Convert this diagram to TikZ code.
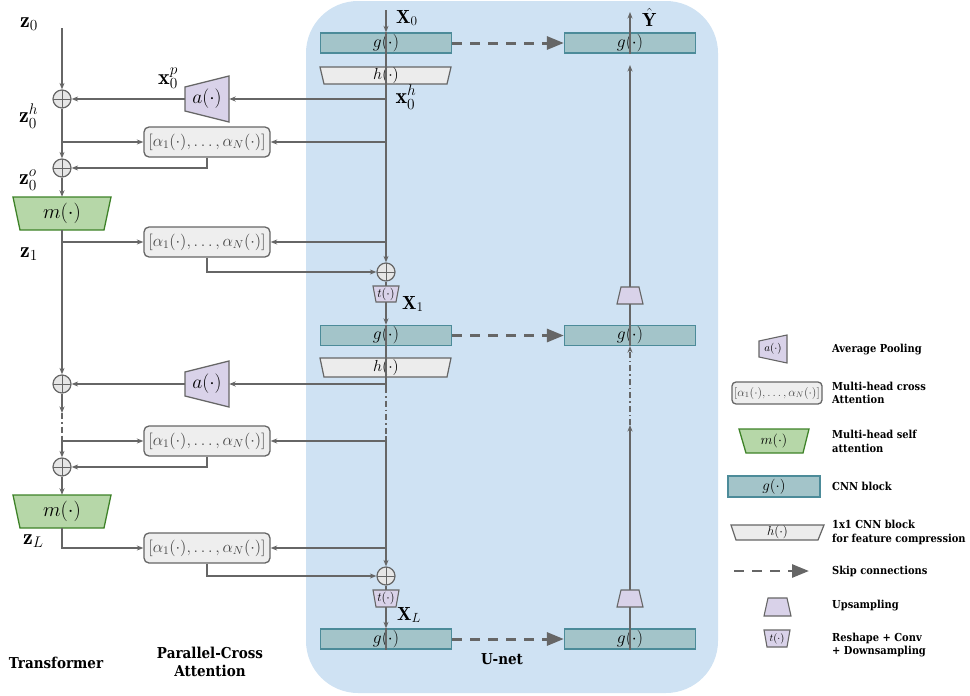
\RequirePackage{fix-cm}
\documentclass[tikz,border=0pt]{standalone}
\usepackage{fontspec}
\newfontfamily\labfont{DejaVu Serif}[FakeStretch=0.9]
\usetikzlibrary{arrows.meta}
\definecolor{bgblue}{RGB}{207,226,243}
\definecolor{gfill}{RGB}{163,196,201}
\definecolor{gdraw}{RGB}{76,139,153}
\definecolor{hfill}{RGB}{236,236,236}
\definecolor{lineg}{RGB}{102,102,102}
\definecolor{lav}{RGB}{217,210,233}
\definecolor{mfill}{RGB}{182,215,168}
\definecolor{mdraw}{RGB}{62,130,40}
\definecolor{alfill}{RGB}{238,238,238}
\definecolor{pfill}{RGB}{230,230,230}
\definecolor{txtg}{RGB}{70,70,70}
\begin{document}
\begin{tikzpicture}[x=1pt,y=-1pt,
  ln/.style={draw=lineg, line width=1.3pt},
  arr/.style={ln, -{Stealth[length=6.5pt,width=5pt,inset=2pt]}},
  dd/.style={dash pattern=on 6pt off 3pt on 1.5pt off 3pt},
  plus/.style={circle, draw=lineg, fill=pfill, line width=1.2pt, minimum size=18pt, inner sep=0pt,
    path picture={\draw[lineg, line width=1pt] (path picture bounding box.north) -- (path picture bounding box.south) (path picture bounding box.west) -- (path picture bounding box.east);}},
  gbox/.style={draw=gdraw, fill=gfill, line width=1.3pt, minimum width=131pt, minimum height=20pt, inner sep=0pt, font=\fontsize{17.5}{17.5}\selectfont},
  abox/.style={draw=lineg, fill=alfill, rounded corners=5pt, line width=1.3pt, minimum width=126pt, minimum height=30pt, inner sep=0pt, text=txtg, font=\fontsize{16.5}{16.5}\selectfont},
  anch/.style={inner sep=0pt, draw=none},
  hshape/.style={draw=lineg, fill=hfill, line width=1.2pt},
  ashape/.style={draw=lineg, fill=lav, line width=1.3pt},
  mshape/.style={draw=mdraw, fill=mfill, line width=1.3pt},
  skiparr/.style={draw=lineg, line width=3pt, dash pattern=on 10pt off 8pt, -{Triangle[length=17pt,width=13pt]}},
  mlab/.style={inner sep=0pt, font=\fontsize{19}{19}\selectfont},
  zlab/.style={inner sep=0pt, font=\fontsize{22}{22}\selectfont},
  tlab/.style={font=\labfont\bfseries\fontsize{15}{18}\selectfont, align=center, inner sep=0pt},
  leg/.style={font=\labfont\bfseries\fontsize{11}{13.5}\selectfont, align=left, anchor=west, inner sep=0pt}
]
\useasboundingbox (0,0) rectangle (970,696);
% background
\fill[bgblue, rounded corners=52pt] (306,1) rectangle (718,693);

% ---------- U-net ----------
\node[gbox] (g1) at (386,43) {$g(\cdot)$};
\node[gbox] (g1r) at (630,43) {$g(\cdot)$};
\filldraw[hshape] (320,67) -- (451,67) -- (447,84) -- (324,84) -- cycle;
\node[anch, minimum width=131pt, minimum height=17pt, font=\fontsize{16}{16}\selectfont] (h1) at (386,75.5) {$h(\cdot)$};

\node[plus] (pU1) at (386,272) {};
\filldraw[ashape, line width=1.1pt] (373,286) -- (399,286) -- (396,302) -- (376,302) -- cycle;
\node[anch, minimum width=26pt, minimum height=16pt, font=\fontsize{12.5}{12.5}\selectfont] (t1) at (386,294) {$t(\cdot)$};

\node[gbox] (g2) at (386,335.5) {$g(\cdot)$};
\node[gbox] (g2r) at (630,335.5) {$g(\cdot)$};
\filldraw[hshape] (320,358) -- (451,358) -- (447,377) -- (324,377) -- cycle;
\node[anch, minimum width=131pt, minimum height=19pt, font=\fontsize{16}{16}\selectfont] (h2) at (386,367.5) {$h(\cdot)$};
\filldraw[ashape, line width=1.1pt] (621,287) -- (639,287) -- (643,304) -- (617,304) -- cycle;
\node[anch, minimum width=26pt, minimum height=17pt] (up1) at (630,295.5) {};

\node[plus] (pU2) at (386,576) {};
\filldraw[ashape, line width=1.1pt] (373,590) -- (399,590) -- (396,607) -- (376,607) -- cycle;
\node[anch, minimum width=26pt, minimum height=17pt, font=\fontsize{12.5}{12.5}\selectfont] (t2) at (386,598.5) {$t(\cdot)$};
\filldraw[ashape, line width=1.1pt] (621,590) -- (639,590) -- (643,607) -- (617,607) -- cycle;
\node[anch, minimum width=26pt, minimum height=17pt] (up2) at (630,598.5) {};

\node[gbox] (g3) at (386,639) {$g(\cdot)$};
\node[gbox] (g3r) at (630,639) {$g(\cdot)$};

% U-net labels
\node[mlab, anchor=west] (X0) at (396,18) {$\mathbf{X}_0$};
\node[mlab, anchor=west] (Yh) at (642,17) {$\hat{\mathbf{Y}}$};
\node[zlab] (x0h) at (406,97) {$\mathbf{x}_0^h$};
\node[mlab, anchor=west] (X1) at (402,304) {$\mathbf{X}_1$};
\node[mlab, anchor=west] (XL) at (397,615) {$\mathbf{X}_L$};

% ---------- Transformer & cross attention ----------
\node[plus] (p1) at (62,99) {};
\node[plus] (p2) at (62,168) {};
\node[plus] (p3) at (62,384) {};
\node[plus] (p4) at (62,467) {};

\filldraw[mshape] (13,197) -- (111,197) -- (104,230) -- (20,230) -- cycle;
\node[anch, minimum width=98pt, minimum height=33pt, font=\fontsize{20.5}{20.5}\selectfont] (m1) at (62,213.5) {$m(\cdot)$};
\filldraw[mshape] (13,495) -- (111,495) -- (104,528) -- (20,528) -- cycle;
\node[anch, minimum width=98pt, minimum height=33pt, font=\fontsize{20.5}{20.5}\selectfont] (m2) at (62,511.5) {$m(\cdot)$};

\filldraw[ashape] (185,87) -- (229,76) -- (229,122) -- (185,111) -- cycle;
\node[anch, minimum width=44pt, minimum height=46pt, font=\fontsize{19.5}{19.5}\selectfont] (a1) at (207,99) {$a(\cdot)$};
\filldraw[ashape] (185,372) -- (229,361) -- (229,407) -- (185,396) -- cycle;
\node[anch, minimum width=44pt, minimum height=46pt, font=\fontsize{19.5}{19.5}\selectfont] (a2) at (207,384) {$a(\cdot)$};

\node[abox] (al1) at (207,142) {$[\alpha_1(\cdot),\ldots,\alpha_N(\cdot)]$};
\node[abox] (al2) at (207,242) {$[\alpha_1(\cdot),\ldots,\alpha_N(\cdot)]$};
\node[abox] (al3) at (207,441) {$[\alpha_1(\cdot),\ldots,\alpha_N(\cdot)]$};
\node[abox] (al4) at (207,548) {$[\alpha_1(\cdot),\ldots,\alpha_N(\cdot)]$};

\node[zlab, anchor=west] (z0) at (20,24) {$\mathbf{z}_0$};
\node[zlab] (x0p) at (168,78) {$\mathbf{x}_0^p$};
\node[zlab, anchor=west] (z0h) at (19,116) {$\mathbf{z}_0^h$};
\node[zlab, anchor=west] (z0o) at (19,180) {$\mathbf{z}_0^o$};
\node[zlab, anchor=west] (z1) at (20,254) {$\mathbf{z}_1$};
\node[zlab, anchor=west] (zL) at (23,541) {$\mathbf{z}_L$};

% coordinates
\coordinate (xin) at (386,10);
\coordinate (yout) at (630,12);
\coordinate (zin) at (62,28);
\coordinate (c99) at (386,99);
\coordinate (c142) at (386,142);
\coordinate (c242) at (386,242);
\coordinate (c384) at (386,384);
\coordinate (c386) at (386,387);
\coordinate (c436) at (386,436);
\coordinate (c441) at (386,441);
\coordinate (c549) at (386,548);
\coordinate (r65) at (630,65);
\coordinate (r425) at (630,425);
\coordinate (l142) at (62,142);
\coordinate (l242) at (62,242);
\coordinate (l413) at (62,413);
\coordinate (l437) at (62,437);
\coordinate (l441) at (62,441);

% ---------- connectors: U-net ----------
\draw[arr] (xin) -- (g1.north);
\draw[arr] (g1.north) -- (pU1.north);
\draw[arr] (c99) -- (a1.east);
\draw[arr] (c142) -- (al1.east);
\draw[arr] (c242) -- (al2.east);
\draw[ln] (pU1.south) -- (t1.north);
\draw[arr] (t1.south) -- (g2.north);
\draw[ln] (g2.north) -- (c386);
\draw[ln, dd] (c386) -- (c436);
\draw[arr] (c436) -- (pU2.north);
\draw[arr] (c384) -- (a2.east);
\draw[arr] (c441) -- (al3.east);
\draw[arr] (c549) -- (al4.east);
\draw[ln] (pU2.south) -- (t2.north);
\draw[arr] (t2.south) -- (g3.north);
\draw[ln] (g3.north) -- (g3.south);

\draw[skiparr] (g1.east) -- (g1r.west);
\draw[skiparr] (g2.east) -- (g2r.west);
\draw[skiparr] (g3.east) -- (g3r.west);

\draw[ln] (g3r.south) -- (up2.south);
\draw[arr] (up2.north) -- (r425);
\draw[arr, dd] (r425) -- (g2r.south);
\draw[ln] (g2r.south) -- (up1.south);
\draw[arr] (up1.north) -- (r65);
\draw[arr] (g1r.south) -- (yout);

% ---------- connectors: transformer ----------
\draw[arr] (zin) -- (p1.north);
\draw[arr] (a1.west) -- (p1.east);
\draw[arr] (p1.south) -- (p2.north);
\draw[arr] (l142) -- (al1.west);
\draw[arr] (al1.south) |- (p2.east);
\draw[arr] (p2.south) -- (m1.north);
\draw[arr] (m1.south) -- (p3.north);
\draw[arr] (l242) -- (al2.west);
\draw[arr] (al2.south) |- (pU1.west);
\draw[arr] (a2.west) -- (p3.east);
\draw[arr] (p3.south) -- (l413);
\draw[ln, dd] (l413) -- (l437);
\draw[arr] (l437) -- (p4.north);
\draw[arr] (l441) -- (al3.west);
\draw[arr] (al3.south) |- (p4.east);
\draw[arr] (p4.south) -- (m2.north);
\draw[arr] (m2.south) |- (al4.west);
\draw[arr] (al4.south) |- (pU2.west);

% ---------- titles ----------
\node[tlab] (ttr) at (56,663) {Transformer};
\node[tlab] (tpc) at (210,662) {Parallel-Cross\\Attention};
\node[tlab] (tun) at (502,659) {U-net};

% ---------- legend ----------
\filldraw[ashape, line width=1.1pt] (759,341) -- (787,335) -- (787,363) -- (759,357) -- cycle;
\node[anch, font=\fontsize{11}{11}\selectfont] (la) at (773,349) {$a(\cdot)$};
\node[leg] (ta) at (832,350) {Average Pooling};

\node[abox, minimum width=90pt, minimum height=22pt, rounded corners=4pt, font=\fontsize{12}{12}\selectfont] (lal) at (777,393) {$[\alpha_1(\cdot),\ldots,\alpha_N(\cdot)]$};
\node[leg] (tal) at (832,393) {Multi-head cross\\Attention};

\filldraw[mshape] (739,429) -- (809,429) -- (803,453) -- (746,453) -- cycle;
\node[anch, font=\fontsize{14}{14}\selectfont] (lm) at (774,441) {$m(\cdot)$};
\node[leg] (tm) at (832,441.5) {Multi-head self\\attention};

\node[gbox, minimum width=92pt, minimum height=21pt, font=\fontsize{15}{15}\selectfont] (lg) at (774,486.5) {$g(\cdot)$};
\node[leg] (tg) at (832,486) {CNN block};

\filldraw[hshape] (731,525) -- (824,525) -- (818,540) -- (736,540) -- cycle;
\node[anch, font=\fontsize{13}{13}\selectfont] (lh) at (777.5,532.5) {$h(\cdot)$};
\node[leg] (th) at (832,532.5) {1x1 CNN block\\for feature compression};

\coordinate (ls1) at (734,571);
\coordinate (ls2) at (809,571);
\draw[skiparr, line width=2.8pt] (ls1) -- (ls2);
\node[leg] (tsk) at (832,571) {Skip connections};

\filldraw[ashape, line width=1.1pt] (768,598) -- (787,598) -- (791,616) -- (764,616) -- cycle;
\node[leg] (tup) at (832,606) {Upsampling};

\filldraw[ashape, line width=1.1pt] (764,630) -- (790,630) -- (787,647) -- (767,647) -- cycle;
\node[anch, font=\fontsize{10.5}{10.5}\selectfont] (lt) at (777,638.5) {$t(\cdot)$};
\node[leg] (tt) at (832,645) {Reshape + Conv\\+ Downsampling};
\end{tikzpicture}
\end{document}
